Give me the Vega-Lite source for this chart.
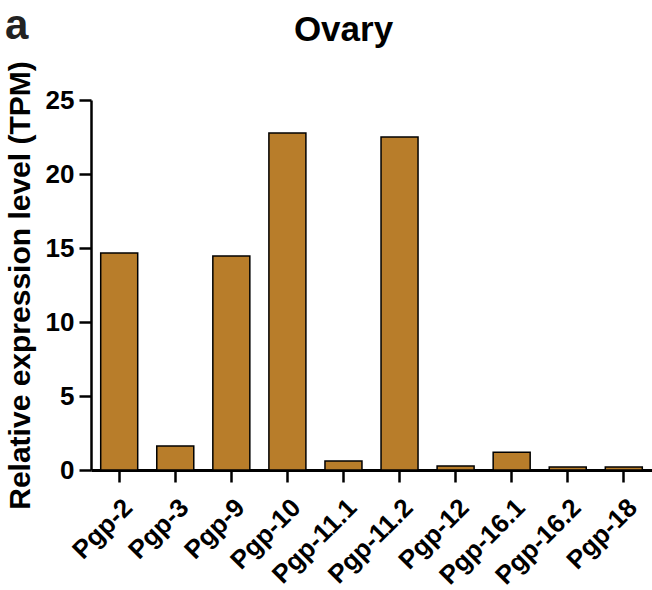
{
  "$schema": "https://vega.github.io/schema/vega-lite/v6.json",
  "autosize": {"type": "none"},
  "padding": {"left": 91, "top": 100, "right": 0, "bottom": 120},
  "width": 561,
  "height": 370,
  "background": "white",
  "title": {"text": "a", "anchor": "start", "frame": "bounds", "font": "Liberation Sans", "fontSize": 42, "fontWeight": "bold", "color": "#222222", "offset": -36},
  "data": {"values": [
    {"gene": "Pgp-2", "tpm": 14.66},
    {"gene": "Pgp-3", "tpm": 1.62},
    {"gene": "Pgp-9", "tpm": 14.46},
    {"gene": "Pgp-10", "tpm": 22.77},
    {"gene": "Pgp-11.1", "tpm": 0.6},
    {"gene": "Pgp-11.2", "tpm": 22.5},
    {"gene": "Pgp-12", "tpm": 0.27},
    {"gene": "Pgp-16.1", "tpm": 1.2},
    {"gene": "Pgp-16.2", "tpm": 0.2},
    {"gene": "Pgp-18", "tpm": 0.2}
  ]},
  "layer": [
    {
      "mark": {"type": "bar", "fill": "#B87D2A", "stroke": "black", "strokeWidth": 1.5},
      "encoding": {
        "x": {"field": "gene", "type": "nominal", "sort": null,
          "scale": {"paddingInner": 0.34, "paddingOuter": 0.173},
          "axis": {"title": null, "labelAngle": -45, "labelFont": "Liberation Sans", "labelFontSize": 26, "labelFontWeight": "bold", "labelColor": "black", "tickSize": 12, "tickWidth": 2.5, "tickColor": "black", "domainColor": "black", "domainWidth": 3, "labelPadding": 12}},
        "y": {"field": "tpm", "type": "quantitative",
          "scale": {"domain": [0, 25], "nice": false},
          "axis": {"title": "Relative expression level (TPM)", "values": [0, 5, 10, 15, 20, 25], "grid": false, "titleFont": "Liberation Sans", "titleFontSize": 30, "titleFontWeight": "bold", "titleColor": "black", "titlePadding": 10, "labelFont": "Liberation Sans", "labelFontSize": 26, "labelFontWeight": "bold", "labelColor": "black", "tickSize": 12, "tickWidth": 2.5, "tickColor": "black", "domainColor": "black", "domainWidth": 2.5, "labelPadding": 5}}
      }
    },
    {
      "mark": {"type": "bar", "opacity": 0},
      "encoding": {
        "x": {"field": "gene", "type": "nominal", "sort": null,
          "axis": {"orient": "top", "title": "Ovary", "labels": false, "ticks": false, "domain": false, "titleFont": "Liberation Sans", "titleFontSize": 35, "titleFontWeight": "bold", "titleColor": "black", "titleX": 252, "titleY": -60, "titleBaseline": "alphabetic"}},
        "y": {"field": "tpm", "type": "quantitative"}
      }
    }
  ],
  "resolve": {"axis": {"x": "independent"}},
  "config": {"view": {"stroke": null}}
}
